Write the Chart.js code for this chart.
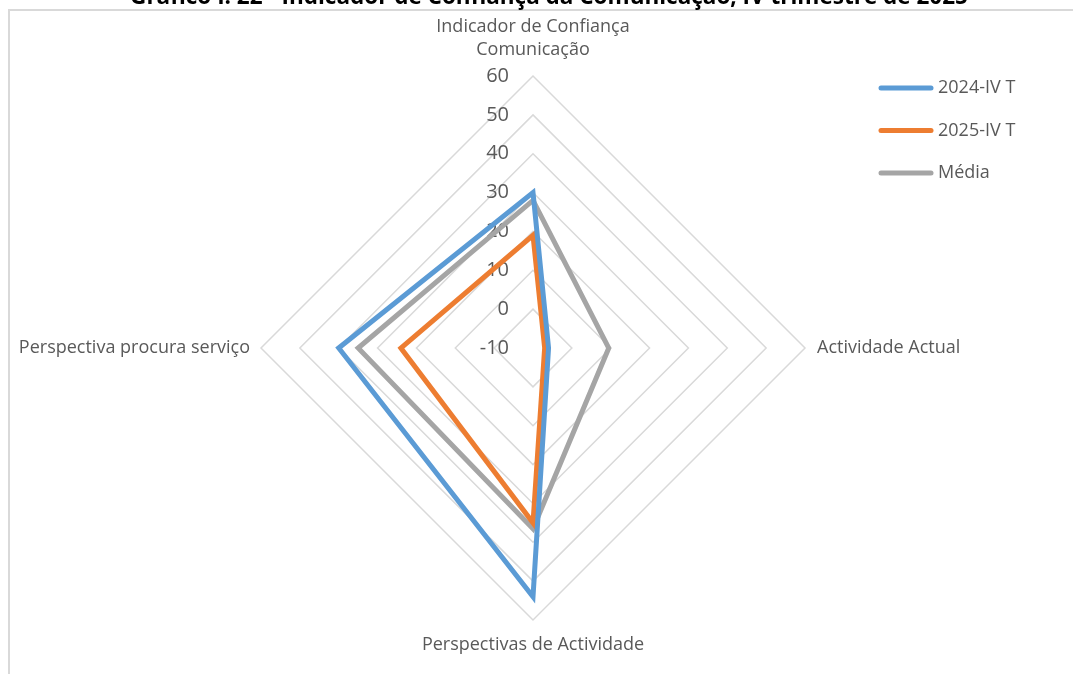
<!DOCTYPE html>
<html>
<head>
<meta charset="utf-8">
<script src="https://cdn.jsdelivr.net/npm/chart.js@4.4.1/dist/chart.umd.min.js"></script>
<style>
  html, body { margin: 0; padding: 0; background: #fff; overflow: hidden; }
  #box { position: relative; width: 1073px; height: 674px; }
</style>
</head>
<body>
<div id="box"><canvas id="radarChart" width="1073" height="674"></canvas></div>
<script>
var chartTitle = "Gráfico I. 22 - Indicador de Confiança da Comunicação, IV trimestre de 2025";
var axisNames = [["Indicador de Confiança", "Comunicação"], "Actividade Actual", "Perspectivas de Actividade", "Perspectiva procura serviço"];
var seriesNames = ["2024-IV T", "2025-IV T", "Média"];
var values2024 = [30, -6, 54, 40];
var values2025 = [19, -7, 35, 24];
var valuesMedia = [28, 9.5, 36.5, 35];
var tickMin = -10, tickMax = 60, tickStep = 10;

var textGrey = "#595959";

// frame, title, tick labels, axis names and legend drawn around the radar
var decorations = {
  id: "decorations",
  beforeDraw(chart) {
    let ctx = chart.ctx;
    ctx.save();
    ctx.strokeStyle = "#d9d9d9";
    ctx.lineWidth = 2;
    ctx.strokeRect(9, 10, 1200, 800);
    ctx.fillStyle = "#000";
    ctx.font = "bold 22.5px 'Open Sans'";
    ctx.textAlign = "center";
    ctx.textBaseline = "alphabetic";
    ctx.fillText(chartTitle, 549, 4);
    ctx.restore();
  },
  beforeDatasetsDraw(chart) {
    let ctx = chart.ctx;
    let r = chart.scales.r;
    ctx.save();
    ctx.fillStyle = textGrey;
    ctx.font = "20px 'Open Sans'";
    ctx.textAlign = "right";
    ctx.textBaseline = "middle";
    r.ticks.forEach(function (t) {
      let y = r.yCenter - r.getDistanceFromCenterForValue(t.value);
      ctx.fillText(String(t.value), r.xCenter - 24, y);
    });
    ctx.restore();
  },
  afterDraw(chart) {
    let ctx = chart.ctx;
    let r = chart.scales.r;
    ctx.save();
    ctx.fillStyle = textGrey;
    ctx.font = "18px 'Open Sans'";
    ctx.textBaseline = "middle";

    let p0 = r.getPointPosition(0, r.drawingArea);
    ctx.textAlign = "center";
    ctx.fillText(axisNames[0][0], p0.x, p0.y - 49);
    ctx.fillText(axisNames[0][1], p0.x, p0.y - 26);

    let p1 = r.getPointPosition(1, r.drawingArea);
    ctx.textAlign = "left";
    ctx.fillText(axisNames[1], p1.x + 12, p1.y);

    let p2 = r.getPointPosition(2, r.drawingArea);
    ctx.textAlign = "center";
    ctx.fillText(axisNames[2], p2.x, p2.y + 25);

    let p3 = r.getPointPosition(3, r.drawingArea);
    ctx.textAlign = "right";
    ctx.fillText(axisNames[3], p3.x - 11, p3.y);

    // legend
    ctx.textAlign = "left";
    chart.data.datasets.forEach(function (ds, i) {
      let y = 88 + i * 42.5;
      ctx.strokeStyle = ds.borderColor;
      ctx.lineWidth = 5;
      ctx.lineCap = "round";
      ctx.beginPath();
      ctx.moveTo(881, y);
      ctx.lineTo(931, y);
      ctx.stroke();
      ctx.fillText(ds.label, 938, y);
    });
    ctx.restore();
  }
};

let ctx = document.getElementById("radarChart").getContext("2d");

let chart = new Chart(ctx, {
  type: "radar",
  data: {
    labels: axisNames,
    datasets: [
      {
        label: seriesNames[0],
        data: values2024,
        borderColor: "#5B9BD5",
        backgroundColor: "#5B9BD5",
        borderWidth: 5,
        fill: false,
        pointRadius: 0,
      },
      {
        label: seriesNames[1],
        data: values2025,
        borderColor: "#ED7D31",
        backgroundColor: "#ED7D31",
        borderWidth: 5,
        fill: false,
        pointRadius: 0,
      },
      {
        label: seriesNames[2],
        data: valuesMedia,
        borderColor: "#A5A5A5",
        backgroundColor: "#A5A5A5",
        borderWidth: 5,
        fill: false,
        pointRadius: 0,
      },
    ],
  },
  options: {
    responsive: false,
    animation: false,
    devicePixelRatio: 1,
    layout: {
      padding: { left: 261, right: 268, top: 76, bottom: 54 },
    },
    scales: {
      r: {
        min: tickMin,
        max: tickMax,
        ticks: { stepSize: tickStep, display: false },
        grid: { color: "#d9d9d9", lineWidth: 1.5 },
        angleLines: { display: false },
        pointLabels: { display: false },
      },
    },
    plugins: {
      legend: { display: false },
      tooltip: { enabled: false },
    },
  },
  plugins: [decorations],
});
</script>
</body>
</html>
